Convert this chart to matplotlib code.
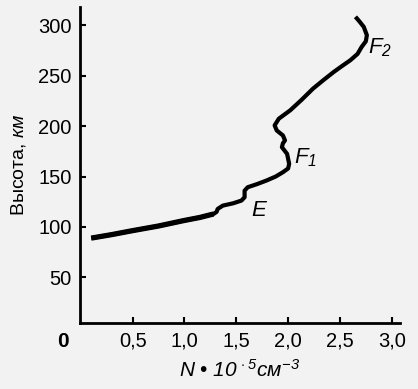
import matplotlib
matplotlib.use("Agg")
import matplotlib.pyplot as plt

# electron density profile (N * 1e-5 cm^-3) vs altitude (km)
dens = [0.10, 0.30, 0.50, 0.75, 0.99, 1.15, 1.28, 1.31, 1.32, 1.37, 1.47, 1.55, 1.58, 1.58,
        1.61, 1.70, 1.79, 1.88, 1.95, 2.00, 2.01, 1.99, 1.94, 1.95, 1.97, 1.95, 1.89, 1.87,
        1.91, 2.02, 2.13, 2.24, 2.34, 2.44, 2.52, 2.60, 2.67, 2.71, 2.75, 2.76, 2.73, 2.69, 2.65]
alt = [89, 92.5, 96.4, 101, 106.3, 109.5, 112.9, 115, 117.9, 121.2, 123.5, 126.2, 129.5, 136,
       139.4, 142.5, 146, 150, 154.3, 158, 162.6, 172.5, 179.1, 183, 185.8, 190.7, 195.7, 200.7,
       207.3, 215.6, 226, 237.1, 245.5, 253.6, 259.5, 265.2, 271.5, 278.5, 284, 290.1, 298.3, 303.5, 308.3]

xticks = [0.5, 1.0, 1.5, 2.0, 2.5, 3.0]
xlabels = ["0,5", "1,0", "1,5", "2,0", "2,5", "3,0"]
yticks = [50, 100, 150, 200, 250, 300]

plt.rcParams['font.family'] = ['Liberation Sans', 'DejaVu Sans']
plt.rcParams['mathtext.fontset'] = 'custom'
plt.rcParams['mathtext.rm'] = 'Liberation Sans:italic'
plt.rcParams['mathtext.it'] = 'Liberation Sans:italic'
plt.rcParams['mathtext.bf'] = 'Liberation Sans:italic'

fig = plt.figure(figsize=(4.18, 3.89), dpi=100)
fig.patch.set_facecolor('#f2f2f2')
ax = fig.add_axes([0.191, 0.170, 0.766, 0.812])
ax.set_facecolor('#f2f2f2')

ax.plot(dens, alt, color='black', lw=3.0, solid_capstyle='butt', solid_joinstyle='round')
# thicker lower tail
ax.plot(dens[:7], alt[:7], color='black', lw=3.8, solid_capstyle='butt')

ax.set_xlim(-0.01, 3.08)
ax.set_ylim(5, 318)
for s in ['top', 'right']:
    ax.spines[s].set_visible(False)
for s in ['left', 'bottom']:
    ax.spines[s].set_linewidth(2.0)

ax.set_xticks(xticks)
ax.set_xticklabels(xlabels)
ax.set_yticks(yticks)
ax.tick_params(direction='in', length=4, width=1.5, labelsize=14.5, pad=6)

ax.text(-0.035, -0.06, "0", transform=ax.transAxes, ha='right', va='center',
        fontsize=15, fontweight='bold')

ax.set_xlabel("$N$ \u2022 $10^{\\,\\cdot5}см^{-3}$", fontsize=15, labelpad=6)
ax.set_ylabel("Высота, $км$", fontsize=14, labelpad=7)

ax.text(1.64, 116, "$E$", fontsize=16, ha='left', va='center')
ax.text(2.06, 169, "$F_1$", fontsize=16, ha='left', va='center')
ax.text(2.77, 278, "$F_2$", fontsize=16, ha='left', va='center')

fig.savefig("out.png", dpi=100, facecolor=fig.get_facecolor())
